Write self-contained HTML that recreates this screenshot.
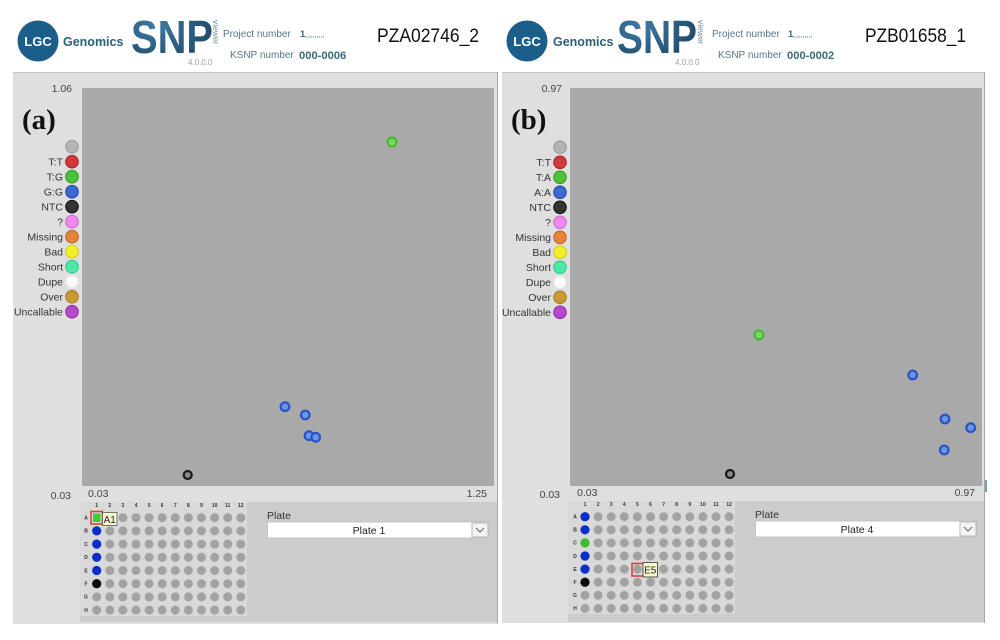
<!DOCTYPE html>
<html><head><meta charset="utf-8"><style>
html,body{margin:0;padding:0;background:#fff;}
svg{display:block;font-family:"Liberation Sans",sans-serif;}
</style></head><body>
<svg width="1000" height="640" viewBox="0 0 1000 640" xmlns="http://www.w3.org/2000/svg">
<defs>
<pattern id="wl" x="90.15" y="511.1" width="13.1" height="13.2" patternUnits="userSpaceOnUse"><circle cx="6.55" cy="6.6" r="4.5" fill="#a2a2a2"/></pattern>
<pattern id="wr" x="578.45" y="510.15" width="13.1" height="13.1" patternUnits="userSpaceOnUse"><circle cx="6.55" cy="6.55" r="4.5" fill="#a2a2a2"/></pattern>
<radialGradient id="snpg" cx="0.3" cy="0.3" r="0.9"><stop offset="0" stop-color="#3f7aa3"/><stop offset="1" stop-color="#173f5c"/></radialGradient>
</defs>
<rect width="1000" height="640" fill="#fff"/>

<!-- ===== LEFT HEADER ===== -->
<circle cx="38" cy="41" r="20.5" fill="#1c5e8a"/>
<text x="38" y="46" font-size="13" font-weight="bold" fill="#fff" text-anchor="middle">LGC</text>
<text x="63" y="46" font-size="12.5" font-weight="bold" fill="#2b607c">Genomics</text>
<text x="131" y="53" font-size="46" font-weight="bold" fill="url(#snpg)" textLength="82" lengthAdjust="spacingAndGlyphs">SNP</text>
<text transform="translate(213,20) rotate(90)" font-size="8.5" fill="#6e8fa6">viewer</text>
<text x="188" y="65" font-size="8" fill="#a0a0a0">4.0.0.0</text>
<text x="223" y="37" font-size="10" fill="#56758a">Project number</text>
<text x="300" y="37" font-size="9.5" font-weight="bold" fill="#3a6a80">1<tspan font-size="7" font-style="italic" font-weight="normal">,,,,,,,,,,</tspan></text>
<text x="230" y="58" font-size="10" fill="#56758a">KSNP number</text>
<text x="299" y="59" font-size="11.2" font-weight="bold" fill="#3a6a80">000-0006</text>
<text x="377" y="42" font-size="19" fill="#111" textLength="102" lengthAdjust="spacingAndGlyphs">PZA02746_2</text>

<!-- ===== RIGHT HEADER ===== -->
<circle cx="527" cy="41" r="20.5" fill="#1c5e8a"/>
<text x="527" y="46" font-size="13" font-weight="bold" fill="#fff" text-anchor="middle">LGC</text>
<text x="553" y="46" font-size="12.5" font-weight="bold" fill="#2b607c">Genomics</text>
<text x="617" y="53" font-size="46" font-weight="bold" fill="url(#snpg)" textLength="80" lengthAdjust="spacingAndGlyphs">SNP</text>
<text transform="translate(698,20) rotate(90)" font-size="8.5" fill="#6e8fa6">viewer</text>
<text x="675" y="65" font-size="8" fill="#a0a0a0">4.0.0.0</text>
<text x="712" y="37" font-size="10" fill="#56758a">Project number</text>
<text x="788" y="37" font-size="9.5" font-weight="bold" fill="#3a6a80">1<tspan font-size="7" font-style="italic" font-weight="normal">,,,,,,,,,,</tspan></text>
<text x="718" y="58" font-size="10" fill="#56758a">KSNP number</text>
<text x="787" y="59" font-size="11.2" font-weight="bold" fill="#3a6a80">000-0002</text>
<text x="865" y="42" font-size="19" fill="#111" textLength="101" lengthAdjust="spacingAndGlyphs">PZB01658_1</text>

<!-- ===== LEFT PANEL ===== -->
<rect x="13" y="72" width="485" height="552" fill="#dfdfdf"/>
<line x1="13" y1="72.5" x2="498" y2="72.5" stroke="#c4c4c4"/>
<line x1="497.5" y1="72" x2="497.5" y2="624" stroke="#a8a8a8"/>
<rect x="82" y="88" width="412" height="398" fill="#a9a9a9"/>
<rect x="80" y="502" width="417" height="120" fill="#cccccc"/>
<rect x="80" y="502" width="167" height="114" fill="#d9d9d9"/>
<text x="72" y="92" font-size="10.5" fill="#444" text-anchor="end">1.06</text>
<text x="71" y="499" font-size="10.5" fill="#444" text-anchor="end">0.03</text>
<text x="88" y="497" font-size="10.5" fill="#444">0.03</text>
<text x="487" y="497" font-size="10.5" fill="#444" text-anchor="end">1.25</text>
<text x="22" y="129" font-family="Liberation Serif,serif" font-size="29" font-weight="bold" fill="#111">(a)</text>

<!-- left legend -->
<g font-size="10.5" fill="#333" text-anchor="end">
<circle cx="72" cy="146.7" r="6.3" fill="#b4b4b4" stroke="#999" stroke-width="1"/>
<circle cx="72" cy="161.7" r="6.3" fill="#d03a3a" stroke="#a02020"/><text x="63" y="165.5">T:T</text>
<circle cx="72" cy="176.7" r="6.3" fill="#4cc23a" stroke="#2f9a22"/><text x="63" y="180.5">T:G</text>
<circle cx="72" cy="191.7" r="6.3" fill="#3a6ad0" stroke="#2244a8"/><text x="63" y="195.5">G:G</text>
<circle cx="72" cy="206.7" r="6.3" fill="#333" stroke="#111"/><text x="63" y="210.5">NTC</text>
<circle cx="72" cy="221.7" r="6.3" fill="#ee8aee" stroke="#cc66cc"/><text x="63" y="225.5">?</text>
<circle cx="72" cy="236.7" r="6.3" fill="#e2843a" stroke="#c0601a"/><text x="63" y="240.5">Missing</text>
<circle cx="72" cy="251.7" r="6.3" fill="#f2f02a" stroke="#d0cc10"/><text x="63" y="255.5">Bad</text>
<circle cx="72" cy="266.7" r="6.3" fill="#4ee8a8" stroke="#28c888"/><text x="63" y="270.5">Short</text>
<circle cx="72" cy="281.7" r="6.3" fill="#fafafa" stroke="#e4e4e4"/><text x="63" y="285.5">Dupe</text>
<circle cx="72" cy="296.7" r="6.3" fill="#c89a36" stroke="#a87a1a"/><text x="63" y="300.5">Over</text>
<circle cx="72" cy="311.7" r="6.3" fill="#b648cc" stroke="#9028a8"/><text x="63" y="315.5">Uncallable</text>
</g>

<!-- left points -->
<g>
<circle cx="392" cy="142" r="4.5" fill="#7ad860" stroke="#44b82c" stroke-width="2"/>
<g fill="#6a96e6" stroke="#2a52c4" stroke-width="2.2">
<circle cx="285" cy="406.7" r="4.3"/>
<circle cx="305.3" cy="415" r="4.3"/>
<circle cx="309" cy="435.7" r="4.3"/>
<circle cx="315.7" cy="437.3" r="4.3"/>
</g>
<circle cx="187.7" cy="475" r="4" fill="#8a8a8a" stroke="#1a1a1a" stroke-width="2.2"/>
</g>

<!-- left plate -->
<g font-size="5" font-weight="bold" fill="#333" text-anchor="middle">
<text x="96.7" y="507">1</text><text x="109.8" y="507">2</text><text x="122.9" y="507">3</text><text x="136" y="507">4</text><text x="149.1" y="507">5</text><text x="162.2" y="507">6</text><text x="175.3" y="507">7</text><text x="188.4" y="507">8</text><text x="201.5" y="507">9</text><text x="214.6" y="507">10</text><text x="227.7" y="507">11</text><text x="240.8" y="507">12</text>
<text x="86" y="519.5">A</text><text x="86" y="532.7">B</text><text x="86" y="545.9">C</text><text x="86" y="559.1">D</text><text x="86" y="572.3">E</text><text x="86" y="585.5">F</text><text x="86" y="598.7">G</text><text x="86" y="611.9">H</text>
</g>
<rect x="90.15" y="511.1" width="157.2" height="105.6" fill="url(#wl)"/>
<rect x="90.15" y="511" width="13.1" height="13.4" fill="#d9d9d9"/>
<rect x="91" y="511.5" width="11.5" height="12.5" fill="none" stroke="#e04040" stroke-width="1.6"/>
<rect x="93" y="513.5" width="7.5" height="8.5" fill="#3ad030"/>
<circle cx="96.7" cy="530.9" r="4.6" fill="#0a2fc8"/>
<circle cx="96.7" cy="544.1" r="4.6" fill="#0a2fc8"/>
<circle cx="96.7" cy="557.3" r="4.6" fill="#0a2fc8"/>
<circle cx="96.7" cy="570.5" r="4.6" fill="#0a2fc8"/>
<circle cx="96.7" cy="583.7" r="4.6" fill="#0a0a0a"/>
<rect x="102.5" y="512.5" width="14.5" height="13" fill="#fbf8d0" stroke="#555" stroke-width="0.8"/>
<text x="109.7" y="523" font-size="10" fill="#222" text-anchor="middle">A1</text>

<text x="267" y="519" font-size="10.5" fill="#333">Plate</text>
<rect x="267.5" y="522" width="221" height="16" fill="#fff" stroke="#c4c4c4"/>
<rect x="472" y="523" width="16" height="14" fill="#f4f4f4" stroke="#bbb"/>
<polyline points="476,528 480,532 484,528" fill="none" stroke="#666" stroke-width="1"/>
<text x="369" y="534" font-size="10.5" fill="#222" text-anchor="middle">Plate 1</text>

<!-- ===== RIGHT PANEL ===== -->
<rect x="502" y="72" width="483" height="551" fill="#dfdfdf"/>
<line x1="502" y1="72.5" x2="985" y2="72.5" stroke="#c4c4c4"/>
<line x1="984.5" y1="72" x2="984.5" y2="623" stroke="#a8a8a8"/>
<rect x="985" y="480" width="2" height="12" fill="#7f9bb8"/>
<rect x="570" y="88" width="412" height="398" fill="#a9a9a9"/>
<rect x="568" y="501" width="416" height="121" fill="#cccccc"/>
<rect x="568" y="501" width="167" height="113" fill="#d9d9d9"/>
<text x="562" y="92" font-size="10.5" fill="#444" text-anchor="end">0.97</text>
<text x="560" y="498" font-size="10.5" fill="#444" text-anchor="end">0.03</text>
<text x="577" y="496" font-size="10.5" fill="#444">0.03</text>
<text x="975" y="496" font-size="10.5" fill="#444" text-anchor="end">0.97</text>
<text x="511" y="129" font-family="Liberation Serif,serif" font-size="29" font-weight="bold" fill="#111">(b)</text>

<!-- right legend -->
<g font-size="10.5" fill="#333" text-anchor="end">
<circle cx="560" cy="147.3" r="6.3" fill="#b4b4b4" stroke="#999"/>
<circle cx="560" cy="162.3" r="6.3" fill="#d03a3a" stroke="#a02020"/><text x="551" y="166">T:T</text>
<circle cx="560" cy="177.3" r="6.3" fill="#4cc23a" stroke="#2f9a22"/><text x="551" y="181">T:A</text>
<circle cx="560" cy="192.3" r="6.3" fill="#3a6ad0" stroke="#2244a8"/><text x="551" y="196">A:A</text>
<circle cx="560" cy="207.3" r="6.3" fill="#333" stroke="#111"/><text x="551" y="211">NTC</text>
<circle cx="560" cy="222.3" r="6.3" fill="#ee8aee" stroke="#cc66cc"/><text x="551" y="226">?</text>
<circle cx="560" cy="237.3" r="6.3" fill="#e2843a" stroke="#c0601a"/><text x="551" y="241">Missing</text>
<circle cx="560" cy="252.3" r="6.3" fill="#f2f02a" stroke="#d0cc10"/><text x="551" y="256">Bad</text>
<circle cx="560" cy="267.3" r="6.3" fill="#4ee8a8" stroke="#28c888"/><text x="551" y="271">Short</text>
<circle cx="560" cy="282.3" r="6.3" fill="#fafafa" stroke="#e4e4e4"/><text x="551" y="286">Dupe</text>
<circle cx="560" cy="297.3" r="6.3" fill="#c89a36" stroke="#a87a1a"/><text x="551" y="301">Over</text>
<circle cx="560" cy="312.3" r="6.3" fill="#b648cc" stroke="#9028a8"/><text x="551" y="316">Uncallable</text>
</g>

<!-- right points -->
<g>
<circle cx="759" cy="335" r="4.5" fill="#7ad860" stroke="#44b82c" stroke-width="2"/>
<g fill="#6a96e6" stroke="#2a52c4" stroke-width="2.2">
<circle cx="912.7" cy="375" r="4.3"/>
<circle cx="945" cy="419" r="4.3"/>
<circle cx="970.7" cy="427.7" r="4.3"/>
<circle cx="944.3" cy="450" r="4.3"/>
</g>
<circle cx="730" cy="474" r="4" fill="#8a8a8a" stroke="#1a1a1a" stroke-width="2.2"/>
</g>

<!-- right plate -->
<g font-size="5" font-weight="bold" fill="#333" text-anchor="middle">
<text x="585" y="506">1</text><text x="598.1" y="506">2</text><text x="611.2" y="506">3</text><text x="624.3" y="506">4</text><text x="637.4" y="506">5</text><text x="650.5" y="506">6</text><text x="663.6" y="506">7</text><text x="676.7" y="506">8</text><text x="689.8" y="506">9</text><text x="702.9" y="506">10</text><text x="716" y="506">11</text><text x="729.1" y="506">12</text>
<text x="575" y="518.5">A</text><text x="575" y="531.6">B</text><text x="575" y="544.7">C</text><text x="575" y="557.8">D</text><text x="575" y="570.9">E</text><text x="575" y="584">F</text><text x="575" y="597.1">G</text><text x="575" y="610.2">H</text>
</g>
<rect x="578.45" y="510.15" width="157.2" height="104.8" fill="url(#wr)"/>
<circle cx="585" cy="516.7" r="4.6" fill="#0a2fc8"/>
<circle cx="585" cy="529.8" r="4.6" fill="#0a2fc8"/>
<circle cx="585" cy="542.9" r="4.6" fill="#3ac02a"/>
<circle cx="585" cy="556" r="4.6" fill="#0a2fc8"/>
<circle cx="585" cy="569.1" r="4.6" fill="#0a2fc8"/>
<circle cx="585" cy="582.2" r="4.6" fill="#0a0a0a"/>
<rect x="632" y="563.5" width="11.5" height="12.5" fill="none" stroke="#e04040" stroke-width="1.6"/>
<rect x="643" y="562.5" width="14.5" height="14.5" fill="#fbf8d0" stroke="#444" stroke-width="0.9"/>
<text x="650.2" y="573.5" font-size="10" fill="#222" text-anchor="middle">E5</text>

<text x="755" y="518" font-size="10.5" fill="#333">Plate</text>
<rect x="755.5" y="521" width="221" height="16" fill="#fff" stroke="#c4c4c4"/>
<rect x="960" y="522" width="16" height="14" fill="#f4f4f4" stroke="#bbb"/>
<polyline points="964,527 968,531 972,527" fill="none" stroke="#666" stroke-width="1"/>
<text x="857" y="533" font-size="10.5" fill="#222" text-anchor="middle">Plate 4</text>
</svg>
</body></html>
